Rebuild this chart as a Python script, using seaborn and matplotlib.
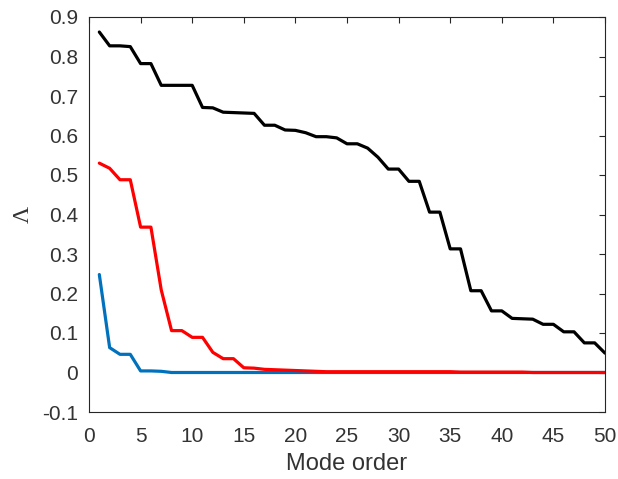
import numpy as np
import pandas as pd
import seaborn as sns
import matplotlib
matplotlib.use("Agg")
import matplotlib.pyplot as plt

mode_order = list(range(1, 51))

black_vals = [0.862, 0.827, 0.827, 0.825, 0.782, 0.782, 0.727, 0.727, 0.727, 0.727,
              0.671, 0.670, 0.659, 0.658, 0.657, 0.656, 0.626, 0.626, 0.614, 0.613,
              0.607, 0.597, 0.597, 0.594, 0.579, 0.579, 0.568, 0.545, 0.515, 0.515,
              0.484, 0.484, 0.406, 0.406, 0.313, 0.313, 0.207, 0.207, 0.156, 0.156,
              0.137, 0.136, 0.135, 0.122, 0.122, 0.103, 0.103, 0.075, 0.075, 0.049]

red_vals = [0.530, 0.517, 0.488, 0.488, 0.368, 0.368, 0.209, 0.106, 0.106, 0.089,
            0.089, 0.051, 0.035, 0.035, 0.012, 0.011, 0.008, 0.007, 0.006, 0.005,
            0.004, 0.003, 0.002, 0.002, 0.002, 0.002, 0.002, 0.002, 0.002, 0.002,
            0.002, 0.002, 0.002, 0.002, 0.002, 0.001, 0.001, 0.001, 0.001, 0.001,
            0.001, 0.001, 0.0, 0.0, 0.0, 0.0, 0.0, 0.0, 0.0, 0.0]

blue_vals = [0.248, 0.063, 0.046, 0.046, 0.004, 0.004, 0.003, 0.0, 0.0, 0.0,
             0.0, 0.0, 0.0, 0.0, 0.0, 0.0, 0.0, 0.0, 0.0, 0.0,
             0.0, 0.0, 0.0, 0.0, 0.0, 0.0, 0.0, 0.0, 0.0, 0.0,
             0.0, 0.0, 0.0, 0.0, 0.0, 0.0, 0.0, 0.0, 0.0, 0.0,
             0.0, 0.0, 0.0, 0.0, 0.0, 0.0, 0.0, 0.0, 0.0, 0.0]

x_ticks = [0, 5, 10, 15, 20, 25, 30, 35, 40, 45, 50]
y_ticks = [-0.1, 0, 0.1, 0.2, 0.3, 0.4, 0.5, 0.6, 0.7, 0.8, 0.9]
y_tick_labels = ["-0.1", "0", "0.1", "0.2", "0.3", "0.4", "0.5", "0.6", "0.7", "0.8", "0.9"]

sns.set_style("white")
plt.rcParams['font.family'] = ['Liberation Sans', 'DejaVu Sans']

df = pd.DataFrame({
    "mode": mode_order * 3,
    "value": black_vals + blue_vals + red_vals,
    "series": ["black"] * 50 + ["blue"] * 50 + ["red"] * 50,
})

fig = plt.figure(figsize=(6.18, 4.79), dpi=100)
# axes: left 89px, right 605px, top 17px, bottom 412px
ax = fig.add_axes([89 / 618, 1 - 412 / 479, (605 - 89) / 618, (412 - 17) / 479])

sns.lineplot(data=df, x="mode", y="value", hue="series",
             palette={"black": "#000000", "blue": "#0072BD", "red": "#FF0000"},
             hue_order=["black", "blue", "red"],
             linewidth=2.3, legend=False, ax=ax, estimator=None)

axis_color = "#262626"
ax.set_xlim(0, 50)
ax.set_ylim(-0.1, 0.9)
ax.set_xticks(x_ticks)
ax.set_yticks(y_ticks)
ax.set_yticklabels(y_tick_labels)
ax.tick_params(direction="in", top=True, right=True, length=4, width=0.8,
               colors=axis_color, labelsize=15, labelcolor="#333333")
ax.tick_params(axis="x", pad=11)
ax.tick_params(axis="y", pad=8)
for s in ax.spines.values():
    s.set_visible(True)
    s.set_color(axis_color)
    s.set_linewidth(0.8)

ax.set_xlabel("Mode order", fontsize=17, color="#333333", labelpad=5)
ax.set_ylabel("Λ", fontsize=17, color="#333333", family=["Liberation Serif", "DejaVu Serif"],
              labelpad=6)

fig.savefig("out.png", dpi=100)
